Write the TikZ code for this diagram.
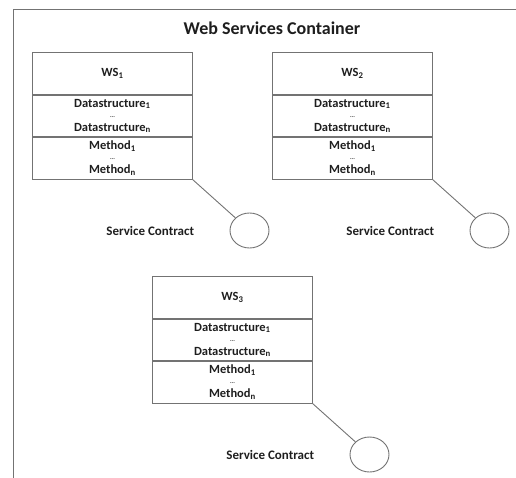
\documentclass[tikz,border=0pt]{standalone}
\usepackage{fontspec}
\setmainfont{Carlito}
\usepackage{tikz}
\usetikzlibrary{shapes.geometric,positioning}
\definecolor{cLine}{RGB}{115,115,115}
\definecolor{cText}{RGB}{30,30,30}
\tikzset{
  basebox/.style={rectangle,draw=cLine,line width=0.9pt,align=center,
                  text=cText,font=\fontsize{12.5}{13}\selectfont\bfseries,
                  minimum width=160pt,inner sep=0pt},
  headnode/.style={basebox,minimum height=41.7pt},
  partnode/.style={basebox,minimum height=41.7pt},
  contract/.style={ellipse,draw=cLine,line width=0.9pt,
                   minimum width=39pt,minimum height=35pt,inner sep=0pt},
  lbl/.style={text=cText,font=\fontsize{13}{14}\selectfont\bfseries},
  link/.style={draw=cLine,line width=0.9pt}
}
\newcommand{\smalldots}{{\fontsize{6}{6}\selectfont ...}}
\begin{document}
\begin{tikzpicture}[x=1pt,y=-1pt]
  \useasboundingbox (0,0) rectangle (516,478);
  \begin{scope}
    \clip (0,0) rectangle (516,478);
    \draw[link] (560,9.5) -- (13.5,9.5) -- (13.5,520);
  \end{scope}
  \node[lbl,font=\fontsize{18}{19}\selectfont\bfseries] (title) at (272,28)
      {Web Services Container};

  % one block per web service: x/y of the top left corner
  \foreach \i/\x/\y in {1/32/52, 2/272/52, 3/152/276} {
    \node[headnode,anchor=north west] (ws\i) at (\x,\y) {WS\textsubscript{\i}};
    \node[partnode,below=0pt of ws\i] (data\i)
        {Datastructure\textsubscript{1}\\[-3pt]\smalldots\\[1pt]Datastructure\textsubscript{n}};
    \node[partnode,below=0pt of data\i] (meth\i)
        {Method\textsubscript{1}\\[-3pt]\smalldots\\[1pt]Method\textsubscript{n}};
    \node[contract] (sc\i) at ({\x+217.5},{\y+178.5}) {};
    \node[lbl,left=32pt of sc\i] (scl\i) {Service Contract};
    \draw[link] (meth\i.south east) -- (sc\i);
  }
\end{tikzpicture}
\end{document}
